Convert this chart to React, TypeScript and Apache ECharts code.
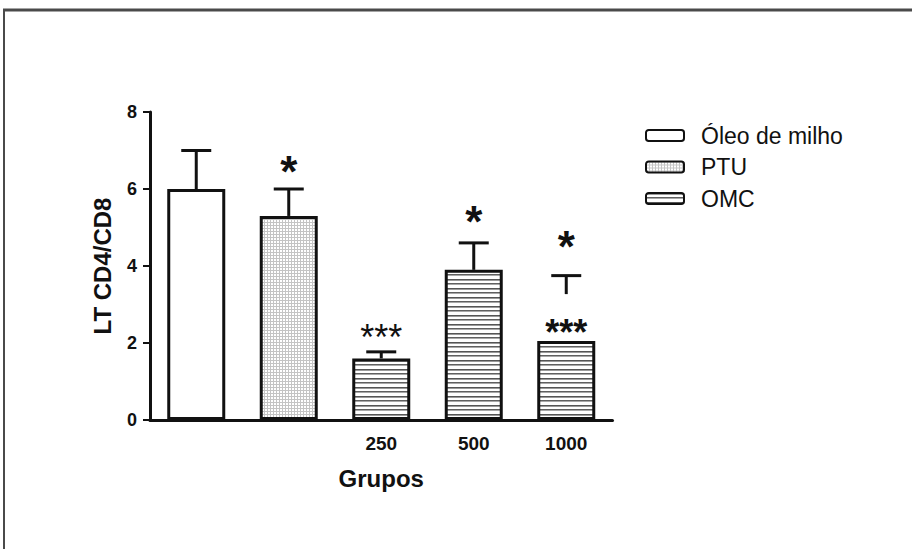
import React, { useEffect, useRef } from "react";
import * as echarts from "echarts";

const groups = ["Óleo de milho", "PTU", "OMC 250", "OMC 500", "OMC 1000"];
const xTickLabels = ["", "", "250", "500", "1000"];
const seriesNames = ["Óleo de milho", "PTU", "OMC"];
const oleoValues = [6.0, "-", "-", "-", "-"];
const ptuValues = ["-", 5.3, "-", "-", "-"];
const omcValues = ["-", "-", 1.6, 3.9, 2.05];
const errLow = [6.0, 5.3, 1.6, 3.9, 3.27];
const errHigh = [7.0, 6.0, 1.77, 4.6, 3.75];
const sigGroup = [1, 2, 3, 4, 4];
const sigValue = [6.7, 2.36, 5.4, 4.75, 2.49];
const sigText = ["*", "***", "*", "*", "***"];
const sigBold = [true, false, true, true, true];
const yTicks = { min: 0, max: 8, interval: 2 };

const FONT = "'Liberation Sans', Arial, Helvetica, sans-serif";

function makeDots() {
  const c = document.createElement("canvas");
  c.width = 3;
  c.height = 3;
  const g = c.getContext("2d")!;
  g.fillStyle = "#ffffff";
  g.fillRect(0, 0, 3, 3);
  g.fillStyle = "#c4c4c4";
  g.fillRect(0, 0, 3, 1);
  g.fillRect(0, 0, 1, 3);
  return c;
}

function makeStripes() {
  const c = document.createElement("canvas");
  c.width = 4;
  c.height = 9;
  const g = c.getContext("2d")!;
  g.fillStyle = "#ffffff";
  g.fillRect(0, 0, 4, 9);
  g.fillStyle = "#555555";
  g.fillRect(0, 0, 4, 1);
  g.fillStyle = "#9a9a9a";
  g.fillRect(0, 1, 4, 1);
  g.fillStyle = "#606060";
  g.fillRect(0, 4, 4, 1);
  g.fillStyle = "#a8a8a8";
  g.fillRect(0, 5, 4, 1);
  return c;
}

export default function App() {
  const ref = useRef<HTMLDivElement>(null);
  useEffect(() => {
    if (!ref.current) return;
    const chart = echarts.init(ref.current, null, { renderer: "svg" });
    const dots = { image: makeDots(), repeat: "repeat" };
    const stripes = { image: makeStripes(), repeat: "repeat" };
    const fills = ["#ffffff", dots, stripes];
    const valueSets = [oleoValues, ptuValues, omcValues];

    const barSeries = seriesNames.map((name, i) => ({
      name,
      type: "bar",
      stack: "all",
      barWidth: 58,
      data: valueSets[i],
      itemStyle: { color: fills[i], borderColor: "#111", borderWidth: 3 },
      emphasis: { disabled: true },
      z: 2,
    }));

    const option: any = {
      animation: false,
      backgroundColor: "#ffffff",
      textStyle: { fontFamily: FONT },
      grid: { left: 150, right: 299.5, top: 112, bottom: 129, containLabel: false },
      legend: {
        orient: "vertical",
        left: 640,
        top: 119,
        itemWidth: 38,
        itemHeight: 11,
        itemGap: 8.5,
        data: seriesNames,
        textStyle: { fontFamily: FONT, fontSize: 23, color: "#111", padding: [0, 0, 0, 12] },
      },
      xAxis: {
        type: "category",
        data: groups,
        name: "Grupos",
        nameLocation: "middle",
        nameGap: 46,
        nameTextStyle: { fontFamily: FONT, fontSize: 24, fontWeight: "bold", color: "#111" },
        axisLine: { lineStyle: { color: "#111", width: 3 } },
        axisTick: { alignWithLabel: true, length: 7, lineStyle: { width: 2, color: "#111" } },
        axisLabel: {
          margin: 14,
          fontFamily: FONT,
          fontSize: 19,
          fontWeight: "bold",
          color: "#111",
          formatter: (_v: string, i: number) => xTickLabels[i],
        },
      },
      yAxis: {
        type: "value",
        min: yTicks.min,
        max: yTicks.max,
        interval: yTicks.interval,
        name: "LT CD4/CD8",
        nameLocation: "middle",
        nameGap: 36,
        nameTextStyle: { fontFamily: FONT, fontSize: 24, fontWeight: "bold", color: "#111" },
        axisLine: { show: true, lineStyle: { color: "#111", width: 3 } },
        axisTick: { show: true, length: 7, lineStyle: { width: 2, color: "#111" } },
        axisLabel: { margin: 13, fontFamily: FONT, fontSize: 18, fontWeight: "bold", color: "#111" },
        splitLine: { show: false },
      },
      series: [
        ...barSeries,
        {
          type: "custom",
          name: "err",
          z: 5,
          silent: true,
          data: errLow.map((lo, i) => [i, lo, errHigh[i]]),
          renderItem: (_p: any, api: any) => {
            const x = api.value(0);
            const lo = api.coord([x, api.value(1)]);
            const hi = api.coord([x, api.value(2)]);
            const half = 15;
            return {
              type: "group",
              children: [
                { type: "line", shape: { x1: lo[0], y1: lo[1], x2: hi[0], y2: hi[1] }, style: { stroke: "#111", lineWidth: 3 } },
                { type: "line", shape: { x1: hi[0] - half, y1: hi[1], x2: hi[0] + half, y2: hi[1] }, style: { stroke: "#111", lineWidth: 3 } },
              ],
            };
          },
        },
        {
          type: "custom",
          name: "sig",
          z: 6,
          silent: true,
          data: sigGroup.map((g, i) => [g, sigValue[i], i]),
          renderItem: (_p: any, api: any) => {
            const idx = api.value(2);
            const pt = api.coord([api.value(0), api.value(1)]);
            const single = sigText[idx].length === 1;
            const fs = single ? 44 : 36;
            return {
              type: "text",
              x: pt[0],
              y: pt[1] + 0.22 * fs,
              style: {
                text: sigText[idx],
                fontFamily: FONT,
                fontSize: fs,
                fontWeight: sigBold[idx] ? "bold" : "normal",
                fill: "#111",
                align: "center",
                verticalAlign: "middle",
              },
            };
          },
        },
      ],
      graphic: [
        { type: "line", shape: { x1: 3, y1: 10, x2: 912, y2: 10 }, style: { stroke: "#4a4a4a", lineWidth: 3 }, silent: true },
        { type: "line", shape: { x1: 4, y1: 9, x2: 4, y2: 549 }, style: { stroke: "#4a4a4a", lineWidth: 2 }, silent: true },
      ],
    };
    chart.setOption(option);
    return () => chart.dispose();
  }, []);
  return (
    <div
      ref={ref}
      style={{ position: "fixed", left: 0, top: 0, width: 912, height: 549, background: "#fff" }}
    />
  );
}
